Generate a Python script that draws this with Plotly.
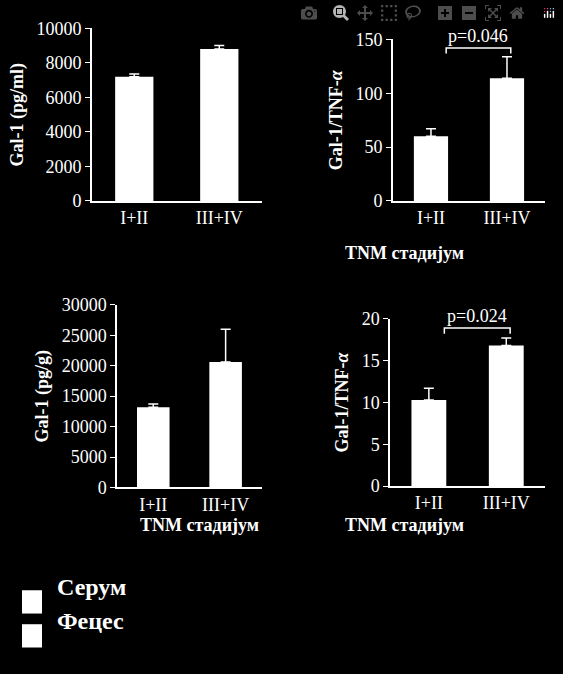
import plotly.graph_objects as go

# podaci
stadijum = ["I+II", "III+IV"]
serum_gal = [7200, 8800]
serum_gal_err = [150, 200]
serum_ratio = [60, 114]
serum_ratio_err = [7, 20]
feces_gal = [13200, 20600]
feces_gal_err = [500, 5400]
feces_ratio = [10.3, 16.8]
feces_ratio_err = [1.4, 0.9]

F = "Liberation Serif"
fig = go.Figure()

panels = [
    ("x", "y", serum_gal, serum_gal_err, [0.163, 0.465], [0.708, 0.972], [0, 10000], 2000, "Gal-1 (pg/ml)"),
    ("x2", "y2", serum_ratio, serum_ratio_err, [0.698, 0.968], [0.708, 0.955], [0, 150], 50, "Gal-1/TNF-<i>α</i>"),
    ("x3", "y3", feces_gal, feces_gal_err, [0.208, 0.465], [0.270, 0.549], [0, 30000], 5000, "Gal-1 (pg/g)"),
    ("x4", "y4", feces_ratio, feces_ratio_err, [0.693, 0.968], [0.272, 0.528], [0, 20], 5, "Gal-1/TNF-<i>α</i>"),
]

for i, (xa, ya, vals, errs, xd, yd, yr, dt, title) in enumerate(panels):
    fig.add_trace(go.Bar(x=[0, 1], y=vals, xaxis=xa, yaxis=ya, width=0.45,
                         marker_color="white", marker_line_width=0,
                         error_y=dict(type="data", array=errs, arrayminus=[0, 0],
                                      color="white", thickness=1.5, width=5)))
    n = "" if i == 0 else str(i + 1)
    fig.layout["xaxis" + n] = dict(domain=xd, anchor=ya, range=[-0.5, 1.5],
                                   tickvals=[0, 1], ticktext=stadijum,
                                   showline=True, linecolor="white", linewidth=1.5,
                                   ticks="outside", ticklen=0, showgrid=False,
                                   zeroline=False, tickfont=dict(size=18))
    fig.layout["yaxis" + n] = dict(domain=yd, anchor=xa, range=yr, dtick=dt, tickformat="d",
                                   showline=True, linecolor="white", linewidth=1.5,
                                   ticks="outside", ticklen=5, tickcolor="white",
                                   showgrid=False, zeroline=False, tickfont=dict(size=18),
                                   title=dict(text="<b>" + title + "</b>", font=dict(size=18), standoff=8))

# TNM natpisi
for xp, yp in [(0.828, 0.629), (0.355, 0.194), (0.828, 0.194)]:
    fig.add_annotation(x=xp, y=yp, xref="paper", yref="paper", text="<b>TNM стадијум</b>",
                       showarrow=False, font=dict(size=18))

# p-vrijednosti
for xa, ya, y0, y1, txt in [("x2", "y2", 137, 142, "p=0.046"), ("x4", "y4", 18.2, 18.9, "p=0.024")]:
    fig.add_shape(type="path", xref=xa, yref=ya, line=dict(color="white", width=1.5),
                  path=f"M 0.2 {y0} L 0.2 {y1} L 1.05 {y1} L 1.05 {y0}")
    fig.add_annotation(x=0.62, y=y1, xref=xa, yref=ya, text=txt, showarrow=False,
                       yanchor="bottom", font=dict(size=18))

# legenda
for k, lab in enumerate(["Серум", "Фецес"]):
    top = 598 + k * 35
    fig.add_shape(type="rect", xref="paper", yref="paper", x0=22 / 563, x1=42 / 563,
                  y0=1 - (top + 24) / 674, y1=1 - top / 674, fillcolor="white", line_width=0)
    fig.add_annotation(x=55 / 563, y=1 - (top + 12) / 674, xref="paper", yref="paper",
                       text="<b>" + lab + "</b>", showarrow=False, xanchor="left",
                       font=dict(size=24))

fig.update_layout(width=563, height=674, margin=dict(l=0, r=0, t=0, b=0),
                  paper_bgcolor="black", plot_bgcolor="black", showlegend=False,
                  font=dict(family=F, color="white"))
fig.write_html("out.html",
               post_script="document.body.style.margin='0';document.body.style.background='black';")
